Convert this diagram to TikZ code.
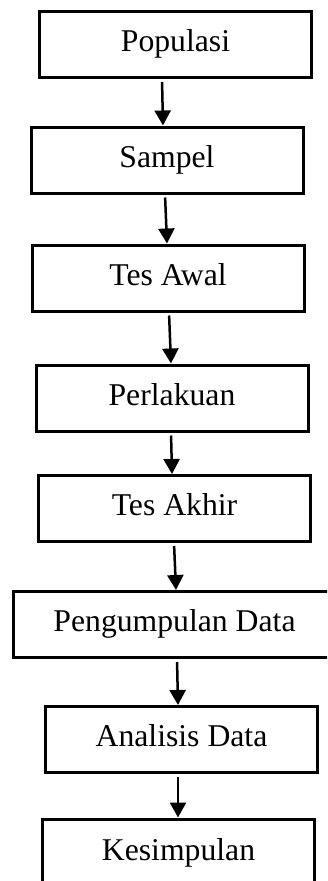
\documentclass[tikz,border=0pt]{standalone}
\usepackage{fontspec}
\setmainfont{Liberation Serif}
\usetikzlibrary{arrows.meta}
\begin{document}
\begin{tikzpicture}[x=1pt,y=-1pt,
  stepbox/.style={draw=black,line width=3pt,rectangle,inner sep=0pt,
    minimum width=272pt,minimum height=66pt,
    font=\fontsize{31.7}{38}\selectfont,text height=21.5pt,text depth=7pt},
  arr/.style={line width=2.5pt,-{Triangle[width=16pt,length=15pt]},shorten <=3pt}]
\useasboundingbox (0,0) rectangle (327,881);
\clip (0,0) rectangle (327,881);
\node[stepbox] (n1) at (175.5,44.5) {Populasi};
\node[stepbox] (n2) at (167,160) {Sampel};
\node[stepbox] (n3) at (168,278) {Tes Awal};
\node[stepbox] (n4) at (172,398) {Perlakuan};
\node[stepbox] (n5) at (174.5,508.5) {Tes Akhir};
\node[stepbox,minimum width=322pt] (n6) at (174.5,624.5) {Pengumpulan Data};
\node[stepbox] (n7) at (181.5,739.5) {Analisis Data};
\node[stepbox,minimum height=68pt] (n8) at (178.5,853) {Kesimpulan};
\draw[arr] ([xshift=-13.5pt]n1.south) -- ([xshift=-4pt]n2.north);
\draw[arr] ([xshift=-2pt]n2.south) -- ([xshift=-1pt]n3.north);
\draw[arr] ([xshift=1pt]n3.south) -- ([xshift=-1pt]n4.north);
\draw[arr] ([xshift=-1pt]n4.south) -- ([xshift=-2.5pt]n5.north);
\draw[arr] ([xshift=-0.5pt]n5.south) -- ([xshift=1.5pt]n6.north);
\draw[arr] ([xshift=2.5pt]n6.south) -- ([xshift=-3.5pt]n7.north);
\draw[arr] ([xshift=-3.5pt]n7.south) -- ([xshift=-0.5pt]n8.north);
\end{tikzpicture}
\end{document}
